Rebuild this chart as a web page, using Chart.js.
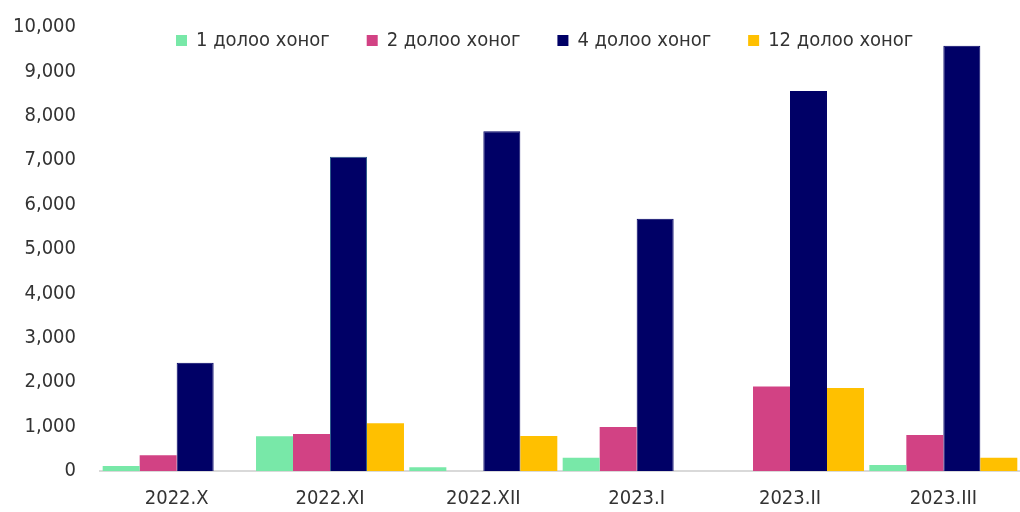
<!DOCTYPE html>
<html>
<head>
<meta charset="utf-8">
<script src="https://cdn.jsdelivr.net/npm/chart.js@4.4.0/dist/chart.umd.min.js"></script>
<style>
  html, body { margin: 0; padding: 0; background: #fff; }
  #wrap { width: 1020px; height: 512px; }
</style>
</head>
<body>
<div id="wrap"><canvas id="chart" width="1020" height="512"></canvas></div>
<script>
const categories = ['2022.X', '2022.XI', '2022.XII', '2023.I', '2023.II', '2023.III'];
const seriesNames = ['1 долоо хоног', '2 долоо хоног', '4 долоо хоног', '12 долоо хоног'];
const week1 = [110, 780, 85, 300, 0, 135];
const week2 = [355, 835, 0, 990, 1905, 810];
const week4 = [2440, 7080, 7650, 5680, 8560, 9580];
const week12 = [0, 1075, 790, 0, 1870, 300];
const yTicks = [0, 1000, 2000, 3000, 4000, 5000, 6000, 7000, 8000, 9000, 10000];

const colors = ['#78E8A8', '#D24284', '#000066', '#FFC000'];
const fontFamily = "'Liberation Sans Narrow', 'Arial Narrow', 'DejaVu Sans Condensed', sans-serif";
const font = { family: fontFamily, size: 20 };

// legend drawn in a row inside the plot area, like the original
const rowLegend = {
  id: 'rowLegend',
  afterDraw(chart) {
    const c = chart.ctx;
    const y = 40;
    let x = chart.chartArea.left + 76;
    c.save();
    c.font = '20px ' + fontFamily;
    c.textBaseline = 'middle';
    c.textAlign = 'left';
    chart.data.datasets.forEach(ds => {
      c.fillStyle = ds.backgroundColor;
      c.fillRect(x, y - 5, 11, 11);
      c.fillStyle = '#333';
      c.fillText(ds.label, x + 20, y + 1);
      x += 20 + c.measureText(ds.label).width + 37;
    });
    c.restore();
  }
};

const ctx = document.getElementById('chart').getContext('2d');
new Chart(ctx, {
  type: 'bar',
  data: {
    labels: categories,
    datasets: [week1, week2, week4, week12].map((d, i) => ({
      label: seriesNames[i],
      data: d,
      backgroundColor: colors[i],
      borderColor: i === 2 ? categories.map((c, j) => j === 1 ? '#2E5C8A' : colors[i]) : colors[i],
      borderWidth: i === 2 ? 1 : 0,
      barPercentage: 1,
      categoryPercentage: 0.965
    }))
  },
  plugins: [rowLegend],
  options: {
    responsive: false,
    animation: false,
    layout: { padding: { top: 27, right: 0, bottom: 0, left: 0 } },
    plugins: {
      legend: { display: false },
      tooltip: { enabled: false }
    },
    scales: {
      x: {
        grid: { display: false, drawTicks: false },
        border: { color: '#d9d9d9', width: 2 },
        ticks: { font: font, color: '#333', padding: 16, maxRotation: 0 },
        afterFit: s => { s.height = 41; s.paddingLeft = 0; s.paddingRight = 0; }
      },
      y: {
        min: 0,
        max: 10000,
        afterBuildTicks: s => { s.ticks = yTicks.map(v => ({ value: v })); },
        grid: { display: false, drawTicks: false },
        border: { display: false },
        ticks: {
          font: font,
          color: '#333',
          padding: 24,
          callback: v => v.toLocaleString('en-US')
        },
        afterFit: s => { s.width = 100; s.paddingTop = 0; s.paddingBottom = 0; }
      }
    }
  }
});
</script>
</body>
</html>
